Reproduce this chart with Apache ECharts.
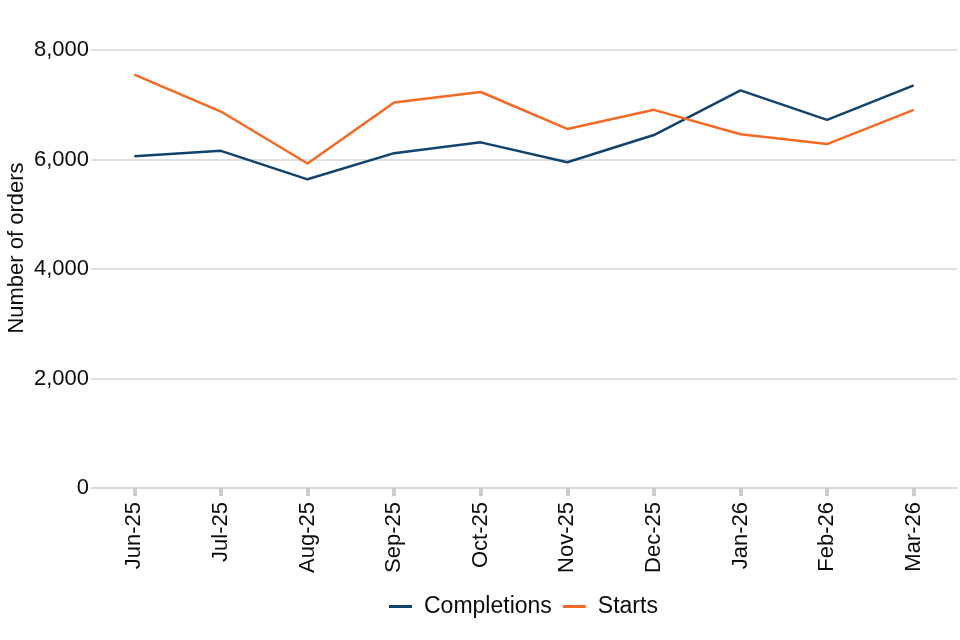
<!DOCTYPE html>
<html>
<head>
<meta charset="utf-8">
<script src="https://cdn.jsdelivr.net/npm/echarts@6/dist/echarts.min.js"></script>
<style>html,body{margin:0;padding:0;background:#fff}#chart{width:960px;height:640px}</style>
</head>
<body>
<div id="chart"></div>
<script>
var categories = ["Jun-25","Jul-25","Aug-25","Sep-25","Oct-25","Nov-25","Dec-25","Jan-26","Feb-26","Mar-26"];
var completions = [6060, 6158, 5638, 6116, 6313, 5950, 6447, 7262, 6723, 7354];
var starts = [7551, 6876, 5926, 7041, 7233, 6558, 6907, 6460, 6282, 6907];
var yTicks = [0, 2000, 4000, 6000, 8000];

var font = "Liberation Sans, Arial, sans-serif";
var chart = echarts.init(document.getElementById('chart'), null, {renderer: 'canvas'});
chart.setOption({
  backgroundColor: '#ffffff',
  animation: false,
  textStyle: {fontFamily: font},
  grid: {left: 91, right: 3, top: 50, bottom: 152, containLabel: false, outerBoundsMode: 'none'},
  legend: {
    bottom: 17, left: 384,
    itemWidth: 23, itemHeight: 3, itemGap: 11,
    icon: 'rect',
    textStyle: {fontSize: 23, color: '#0b0c0c', fontFamily: font, padding: [0, 0, 0, 7]},
    data: ['Completions', 'Starts']
  },
  xAxis: {
    type: 'category',
    data: categories,
    boundaryGap: true,
    axisLine: {show: true, lineStyle: {color: '#d9d9d9', width: 1.5}},
    axisTick: {show: true, alignWithLabel: true, length: 8, lineStyle: {color: '#cccccc', width: 4}},
    axisLabel: {rotate: 90, fontSize: 22, color: '#0b0c0c', margin: 14, fontFamily: font},
    splitLine: {show: false}
  },
  yAxis: {
    type: 'value',
    min: 0, max: 8000, interval: 2000,
    name: 'Number of orders',
    nameLocation: 'middle',
    nameGap: 63,
    nameMoveOverlap: false,
    nameTextStyle: {fontSize: 22, color: '#0b0c0c', fontFamily: font, padding: [0, 0, 0, 42]},
    axisLine: {show: false},
    axisTick: {show: false},
    axisLabel: {
      fontSize: 22, color: '#0b0c0c', margin: 2, fontFamily: font,
      formatter: function (v) { return yTicks.indexOf(v) >= 0 ? v.toLocaleString('en-GB') : ''; }
    },
    splitLine: {show: true, lineStyle: {color: '#d4d4d4', width: 1.5}}
  },
  series: [
    {name: 'Completions', type: 'line', data: completions, symbol: 'none',
     lineStyle: {color: '#12436D', width: 2.5}, itemStyle: {color: '#12436D'}},
    {name: 'Starts', type: 'line', data: starts, symbol: 'none',
     lineStyle: {color: '#F46A25', width: 2.5}, itemStyle: {color: '#F46A25'}}
  ]
});
</script>
</body>
</html>
